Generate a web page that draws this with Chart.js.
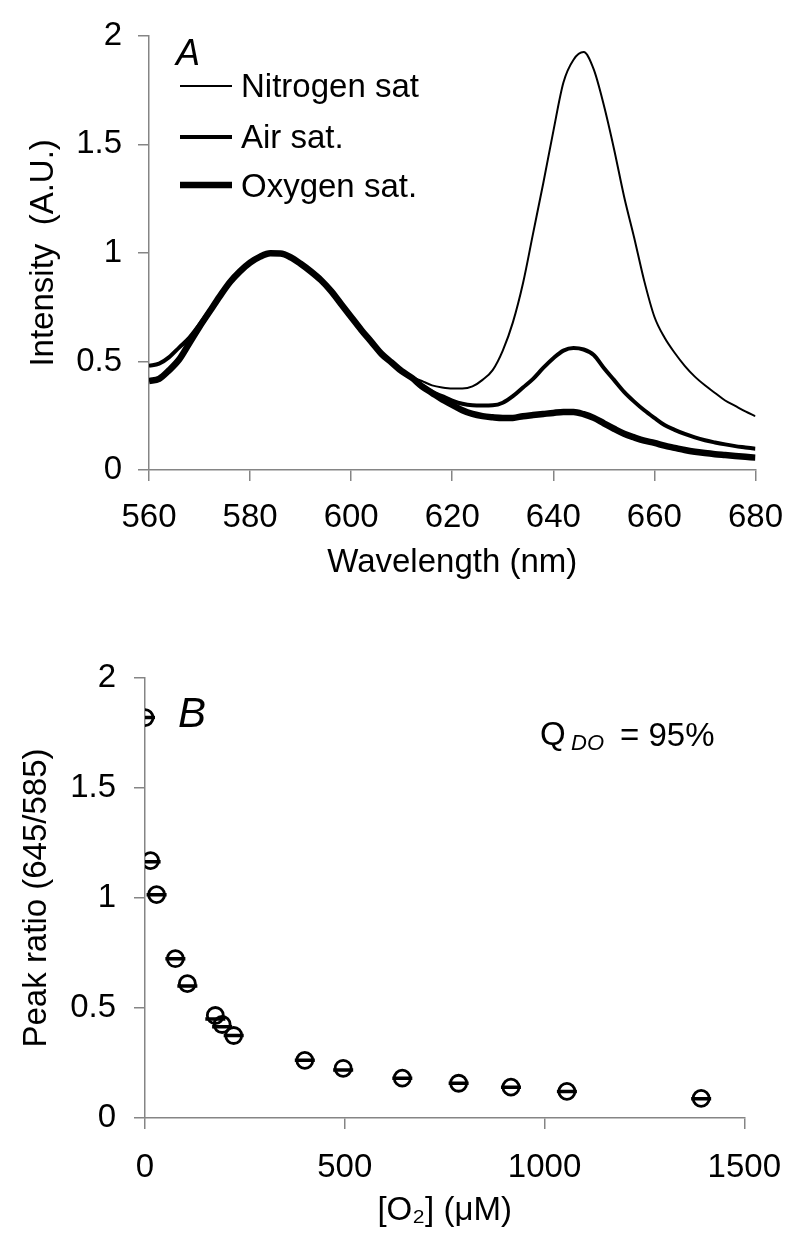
<!DOCTYPE html>
<html>
<head>
<meta charset="utf-8">
<script src="https://cdn.jsdelivr.net/npm/chart.js@4.4.1/dist/chart.umd.min.js"></script>
<style>
  html, body { margin: 0; padding: 0; background: #fff; }
  .panel { position: absolute; left: 0; width: 800px; }
  #panelA { top: 0; height: 610px; }
  #panelB { top: 610px; height: 634px; }
</style>
</head>
<body>
<div class="panel" id="panelA"><canvas id="spectraChart" width="800" height="610"></canvas></div>
<div class="panel" id="panelB"><canvas id="ratioChart" width="800" height="634"></canvas></div>
<script>
// panel A: emission spectra (nm vs. normalised intensity)
const wavelengths = [560, 562, 564, 566, 568, 570, 572, 574, 576, 578, 580, 582, 584, 586, 588, 590,
    592, 594, 596, 598, 600, 602, 604, 606, 608, 610, 612, 614, 616, 618, 620, 622, 624, 626, 628, 630,
    632, 634, 636, 638, 640, 642, 644, 646, 648, 650, 652, 654, 656, 658, 660, 662, 664, 666, 668, 670,
    672, 674, 676, 678, 680];
const nitrogenSat = [0.48, 0.49, 0.52, 0.565, 0.61, 0.67, 0.735, 0.8, 0.865, 0.915, 0.955, 0.983, 0.998, 0.997, 0.98, 0.95,
    0.915, 0.875, 0.825, 0.765, 0.705, 0.645, 0.59, 0.535, 0.495, 0.458, 0.43, 0.41, 0.39, 0.38, 0.375, 0.375, 0.385, 0.415, 0.46, 0.55,
    0.68, 0.86, 1.09, 1.32, 1.56, 1.785, 1.89, 1.925, 1.845, 1.68, 1.48, 1.26, 1.07, 0.87, 0.706, 0.61, 0.54, 0.48, 0.43, 0.39,
    0.355, 0.32, 0.295, 0.27, 0.248];
const airSat = [0.48, 0.49, 0.52, 0.565, 0.61, 0.67, 0.735, 0.8, 0.865, 0.915, 0.955, 0.983, 0.998, 0.997, 0.98, 0.95,
    0.915, 0.875, 0.825, 0.765, 0.705, 0.645, 0.59, 0.535, 0.495, 0.455, 0.425, 0.39, 0.36, 0.34, 0.32, 0.305, 0.298, 0.297, 0.298, 0.31,
    0.34, 0.38, 0.42, 0.47, 0.515, 0.55, 0.562, 0.555, 0.53, 0.47, 0.415, 0.36, 0.315, 0.275, 0.24, 0.207, 0.185, 0.166, 0.15, 0.137,
    0.127, 0.118, 0.11, 0.104, 0.098];
const oxygenSat = [0.41, 0.42, 0.46, 0.51, 0.585, 0.66, 0.73, 0.8, 0.865, 0.915, 0.955, 0.983, 0.998, 0.997, 0.98, 0.95,
    0.915, 0.875, 0.825, 0.765, 0.705, 0.645, 0.59, 0.535, 0.495, 0.455, 0.425, 0.385, 0.355, 0.325, 0.3, 0.275, 0.258, 0.248, 0.243, 0.24,
    0.24, 0.248, 0.253, 0.258, 0.263, 0.267, 0.267, 0.257, 0.24, 0.215, 0.19, 0.167, 0.15, 0.135, 0.125, 0.112, 0.102, 0.092, 0.084, 0.078,
    0.073, 0.069, 0.065, 0.061, 0.057];
const spectraNames = ['Nitrogen sat', 'Air sat.', 'Oxygen sat.'];
const spectraWidths = [2, 4, 6.5];

// panel B: peak ratio vs dissolved O2
const o2Conc = [0, 14, 29, 76, 106, 176, 193, 222, 400, 496, 644, 785, 916, 1056, 1392];
const peakRatio = [1.82, 1.17, 1.015, 0.724, 0.611, 0.466, 0.425, 0.375, 0.262, 0.226, 0.181, 0.158, 0.14, 0.121, 0.089];
const peakRatioFit = [1.82, 1.165, 1.015, 0.724, 0.6, 0.45, 0.415, 0.375, 0.262, 0.218, 0.181, 0.158, 0.14, 0.121, 0.087];

const FONT = "'Liberation Sans', Arial, sans-serif";
const FONT_SIZE = 33;
const AXIS_GREY = '#858585';

function xy(xs, ys) {
    return xs.map((x, i) => ({ x: x, y: ys[i] }));
}

function axisStyle(extra) {
    return Object.assign({
        border: { display: true, color: AXIS_GREY, width: 1.5 },
        grid: { drawOnChartArea: false, drawTicks: true, tickLength: 11, color: AXIS_GREY, lineWidth: 1.5 },
        ticks: { color: '#000', font: { family: FONT, size: FONT_SIZE } },
        title: { display: true, color: '#000', font: { family: FONT, size: FONT_SIZE } }
    }, extra);
}

// texts and legend keys drawn straight on the canvas
const panelNotes = {
    id: 'panelNotes',
    afterDraw(chart, args, opts) {
        const ctx = chart.ctx;
        ctx.save();
        ctx.fillStyle = '#000';
        ctx.strokeStyle = '#000';
        ctx.textBaseline = 'alphabetic';
        (opts.keys || []).forEach(k => {
            ctx.lineWidth = k.width;
            ctx.beginPath();
            ctx.moveTo(k.x0, k.y);
            ctx.lineTo(k.x1, k.y);
            ctx.stroke();
        });
        (opts.texts || []).forEach(t => {
            ctx.font = t.font;
            ctx.fillText(t.text, t.x, t.y);
        });
        ctx.restore();
    }
};

const plainTick = v => String(v);

document.addEventListener("DOMContentLoaded", function () {
    const spectraSeries = [nitrogenSat, airSat, oxygenSat];
    const tickFont = { family: FONT, size: FONT_SIZE };

    new Chart(document.getElementById('spectraChart').getContext('2d'), {
        type: 'line',
        data: {
            datasets: spectraSeries.map((vals, i) => ({
                label: spectraNames[i],
                data: xy(wavelengths, vals),
                borderColor: '#000',
                borderWidth: spectraWidths[i],
                pointRadius: 0,
                cubicInterpolationMode: 'monotone',
                fill: false
            }))
        },
        options: {
            responsive: false,
            animation: false,
            layout: { padding: { top: 26, right: 39, left: 0, bottom: 0 } },
            plugins: {
                legend: { display: false },
                tooltip: { enabled: false },
                panelNotes: {
                    keys: [
                        { x0: 180, x1: 232, y: 86, width: spectraWidths[0] },
                        { x0: 180, x1: 232, y: 137, width: spectraWidths[1] },
                        { x0: 180, x1: 232, y: 185, width: spectraWidths[2] }
                    ],
                    texts: [
                        { text: 'A', x: 176, y: 65, font: 'italic 36px ' + FONT },
                        { text: spectraNames[0], x: 241, y: 97, font: FONT_SIZE + 'px ' + FONT },
                        { text: spectraNames[1], x: 241, y: 148, font: FONT_SIZE + 'px ' + FONT },
                        { text: spectraNames[2], x: 241, y: 197, font: FONT_SIZE + 'px ' + FONT }
                    ]
                }
            },
            scales: {
                x: axisStyle({
                    type: 'linear', min: 560, max: 680,
                    ticks: { color: '#000', font: tickFont, stepSize: 20, padding: 17, maxRotation: 0, callback: plainTick },
                    title: { display: true, text: 'Wavelength (nm)', color: '#000', font: tickFont, padding: { bottom: 27 } },
                    afterFit: s => { s.height = 140; }
                }),
                y: axisStyle({
                    min: 0, max: 2,
                    ticks: { color: '#000', font: tickFont, stepSize: 0.5, padding: 16, callback: plainTick },
                    title: { display: true, text: 'Intensity  (A.U.)', color: '#000', font: tickFont, padding: { top: 24 } },
                    afterFit: s => { s.width = 149; }
                })
            }
        },
        plugins: [panelNotes]
    });

    new Chart(document.getElementById('ratioChart').getContext('2d'), {
        type: 'scatter',
        data: {
            datasets: [{
                label: 'fit',
                data: xy(o2Conc, peakRatioFit),
                pointStyle: 'line',
                pointRadius: 10,
                borderColor: '#000',
                borderWidth: 3.5,
                showLine: false
            }, {
                label: 'Peak ratio',
                data: xy(o2Conc, peakRatio),
                pointStyle: 'circle',
                pointRadius: 8,
                borderColor: '#000',
                backgroundColor: 'rgba(0,0,0,0)',
                borderWidth: 2.8,
                showLine: false
            }]
        },
        options: {
            responsive: false,
            animation: false,
            layout: { padding: { top: 68, right: 47, left: 0, bottom: 0 } },
            plugins: {
                legend: { display: false },
                tooltip: { enabled: false },
                panelNotes: {
                    texts: [
                        { text: 'B', x: 178, y: 117, font: 'italic 42px ' + FONT },
                        { text: 'Q', x: 540, y: 135, font: FONT_SIZE + 'px ' + FONT },
                        { text: 'DO', x: 571, y: 140, font: 'italic 22px ' + FONT },
                        { text: '= 95%', x: 620, y: 136, font: FONT_SIZE + 'px ' + FONT }
                    ]
                }
            },
            scales: {
                x: axisStyle({
                    type: 'linear', min: 0, max: 1500,
                    ticks: { color: '#000', font: tickFont, stepSize: 500, padding: 19, maxRotation: 0, callback: plainTick },
                    title: { display: true, text: '[O\u2082] (\u03bcM)', color: '#000', font: tickFont, padding: { bottom: 13 } },
                    afterFit: s => { s.height = 126; }
                }),
                y: axisStyle({
                    min: 0, max: 2,
                    ticks: { color: '#000', font: tickFont, stepSize: 0.5, padding: 18, callback: plainTick },
                    title: { display: true, text: 'Peak ratio (645/585)', color: '#000', font: tickFont, padding: { top: 17 } },
                    afterFit: s => { s.width = 145; }
                })
            }
        },
        plugins: [panelNotes]
    });
});
</script>
</body>
</html>
